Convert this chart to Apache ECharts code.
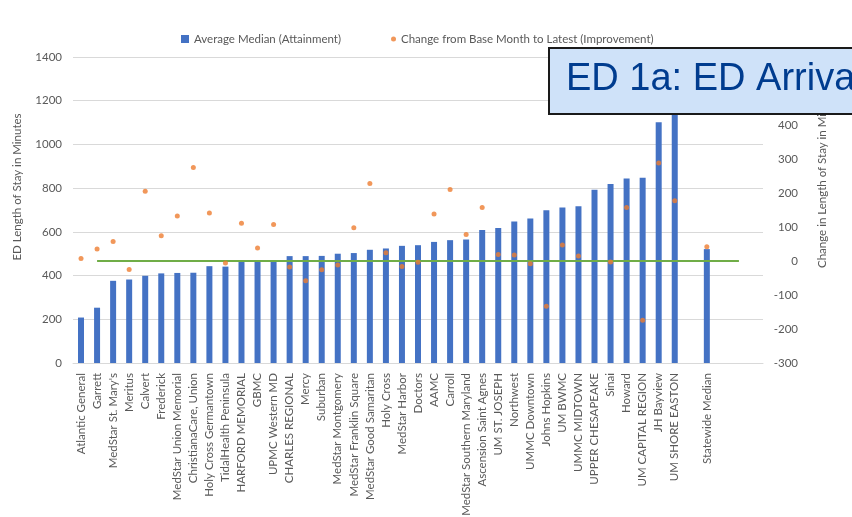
<!DOCTYPE html>
<html>
<head>
<meta charset="utf-8">
<style>
  html, body { margin: 0; padding: 0; background: #ffffff; }
  #chart { width: 852px; height: 517px; }
</style>
<script src="https://cdn.jsdelivr.net/npm/echarts@6/dist/echarts.min.js"></script>
</head>
<body>
<div id="chart"></div>
<script>
// Hospitals, sorted by average median ED length of stay
const hospitals = [
  'Atlantic General', 'Garrett', "MedStar St. Mary's", 'Meritus', 'Calvert',
  'Frederick', 'MedStar Union Memorial', 'ChristianaCare, Union', 'Holy Cross Germantown',
  'TidalHealth Peninsula', 'HARFORD MEMORIAL', 'GBMC', 'UPMC Western MD',
  'CHARLES REGIONAL', 'Mercy', 'Suburban', 'MedStar Montgomery', 'MedStar Franklin Square',
  'MedStar Good Samaritan', 'Holy Cross', 'MedStar Harbor', 'Doctors', 'AAMC', 'Carroll',
  'MedStar Southern Maryland', 'Ascension Saint Agnes', 'UM ST. JOSEPH', 'Northwest',
  'UMMC Downtown', 'Johns Hopkins', 'UM BWMC', 'UMMC MIDTOWN', 'UPPER CHESAPEAKE',
  'Sinai', 'Howard', 'UM CAPITAL REGION', 'JH Bayview', 'UM SHORE EASTON'
];

// Average median ED length of stay, minutes (left axis)
const avgMedian = [
  208, 253, 376, 382, 399, 410, 412, 413, 443, 441, 462, 463, 465,
  489, 489, 490, 500, 503, 518, 524, 536, 539, 554, 562, 565, 608,
  618, 647, 661, 699, 711, 717, 793, 819, 844, 847, 1102, 1280
];

// Change from base month to latest, minutes (right axis)
const improvement = [
  7, 35, 57, -25, 205, 74, 132, 275, 141, -6, 111, 38, 107,
  -18, -58, -26, -12, 98, 228, 24, -16, -4, 138, 210, 78, 157,
  19, 18, -8, -133, 47, 15, null, -3, 157, -174, 288, 177
];

const statewideLabel = 'Statewide Median';
const statewideMedian = 521;
const statewideChange = 42;

// Zero-change reference line, from the second category to two slots past the statewide bar
const zeroChange = 0;
const zeroLineFrom = 1;
const zeroLineTo = 41;

// Category layout: hospitals, one spacer, statewide median, three trailing slots
const categories = hospitals.concat(['', statewideLabel, '', '', '']);
const barData = avgMedian.concat([null, statewideMedian, null, null, null]);
const dotData = improvement.concat([null, statewideChange, null, null, null]);

const leftTicks = { min: 0, max: 1400, interval: 200 };
const rightTicks = { min: -300, max: 600, interval: 100 };

const titleText = 'ED 1a: ED Arrival to Departure';
const leftAxisTitle = 'ED Length of Stay in Minutes';
const rightAxisTitle = 'Change in Length of Stay in Minutes';

const FONT = 'Lato, "Open Sans", sans-serif';
const FS = 11.5;
const GREY = '#595959';

const chart = echarts.init(document.getElementById('chart'), null, { renderer: 'canvas' });

chart.setOption({
  animation: false,
  backgroundColor: '#ffffff',
  textStyle: { fontFamily: FONT },
  grid: {
    left: 73, right: 89, top: 57, bottom: 154,
    containLabel: false,
    outerBoundsMode: 'none'
  },
  legend: [
    {
      data: ['Average Median (Attainment)'],
      left: 176, top: 28,
      itemWidth: 8, itemHeight: 8,
      icon: 'rect',
      textStyle: { color: GREY, fontSize: FS, fontFamily: FONT }
    },
    {
      data: ['Change from Base Month to Latest (Improvement)'],
      left: 386, top: 28,
      itemWidth: 5, itemHeight: 5,
      icon: 'circle',
      textStyle: { color: GREY, fontSize: FS, fontFamily: FONT }
    }
  ],
  xAxis: {
    type: 'category',
    data: categories,
    axisTick: { show: false },
    axisLine: { lineStyle: { color: '#d9d9d9' } },
    axisLabel: {
      interval: 0, rotate: 90, margin: 10,
      color: GREY, fontSize: FS, fontFamily: FONT
    }
  },
  yAxis: [
    {
      type: 'value',
      min: leftTicks.min, max: leftTicks.max, interval: leftTicks.interval,
      axisLine: { show: false }, axisTick: { show: false },
      splitLine: { lineStyle: { color: '#d9d9d9', width: 1 } },
      axisLabel: {
        color: GREY, fontSize: FS, fontFamily: FONT, margin: 11,
        formatter: (v) => String(v)
      }
    },
    {
      type: 'value',
      min: rightTicks.min, max: rightTicks.max, interval: rightTicks.interval,
      axisLine: { show: false }, axisTick: { show: false },
      splitLine: { show: false },
      axisLabel: {
        color: GREY, fontSize: FS, fontFamily: FONT, margin: 35, align: 'right',
        formatter: (v) => String(v)
      }
    }
  ],
  series: [
    {
      name: 'Average Median (Attainment)',
      type: 'bar',
      data: barData,
      barWidth: 6,
      itemStyle: { color: '#4472C4' },
      z: 2
    },
    {
      name: 'Change from Base Month to Latest (Improvement)',
      type: 'scatter',
      yAxisIndex: 1,
      data: dotData,
      symbolSize: 5,
      itemStyle: { color: '#ED7D31' },
      z: 4,
      markLine: {
        silent: true,
        symbol: 'none',
        label: { show: false },
        lineStyle: { color: '#70AD47', width: 2, type: 'solid' },
        data: [[
          { coord: [zeroLineFrom, zeroChange] },
          { coord: [zeroLineTo, zeroChange] }
        ]],
        z: 3
      }
    }
  ],
  graphic: [
    {
      type: 'text',
      x: 17, y: 187,
      rotation: Math.PI / 2,
      style: {
        text: leftAxisTitle, fill: GREY, fontSize: FS, fontFamily: FONT,
        align: 'center', verticalAlign: 'middle'
      }
    },
    {
      type: 'text',
      x: 822, y: 268,
      rotation: Math.PI / 2,
      style: {
        text: rightAxisTitle, fill: GREY, fontSize: FS, fontFamily: FONT,
        align: 'left', verticalAlign: 'middle'
      }
    },
    {
      // Slide title banner, layered above the plot
      type: 'group',
      zlevel: 1,
      z: 100,
      children: [
        {
          type: 'rect',
          zlevel: 1,
          shape: { x: 549, y: 48, width: 320, height: 66 },
          style: { fill: '#cfe2f9', stroke: '#1a1a1a', lineWidth: 2 }
        },
        {
          type: 'text',
          zlevel: 1,
          x: 566, y: 80,
          style: {
            text: titleText, fill: '#003c8f', fontSize: 38,
            fontFamily: '"Liberation Sans", Arial, sans-serif',
            align: 'left', verticalAlign: 'middle'
          }
        }
      ]
    }
  ]
});
</script>
</body>
</html>
